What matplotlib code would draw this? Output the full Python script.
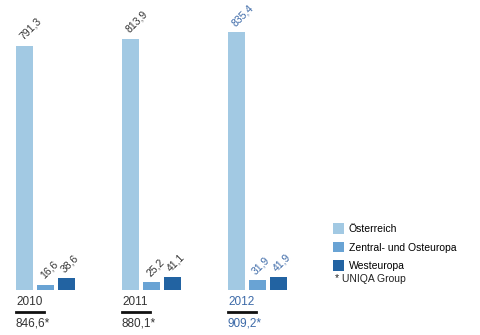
import numpy as np
import matplotlib.pyplot as plt
from matplotlib.patches import Patch

years = ['2010', '2011', '2012']
oesterreich = [791.3, 813.9, 835.4]
zentral_ost = [16.6, 25.2, 31.9]
westeuropa = [38.6, 41.1, 41.9]
totals = [846.6, 880.1, 909.2]
series_names = ['Österreich', 'Zentral- und Osteuropa', 'Westeuropa']

c_oe = '#a2c9e3'
c_zo = '#69a3d4'
c_we = '#2263a2'
label_cols = ['#333333', '#333333', '#3d6aa8']

plt.rcParams['font.family'] = ['Liberation Sans Narrow', 'Liberation Sans', 'DejaVu Sans']

def fmt(v):
    return ('%.1f' % v).replace('.', ',')

W, H = 480, 335
fig = plt.figure(figsize=(W / 100, H / 100), dpi=100)
# axes: baseline at y=290px, spans to top of figure
ax = fig.add_axes([0, (H - 290) / H, 1, 290 / H])
gap = 106.0
ax.set_xlim(-24.5 / gap, (W - 24.5) / gap)
ax.set_ylim(0, 290 / 0.3085)
ax.axis('off')

x = np.arange(len(years))
bw = 17 / gap
offs = [0, 21 / gap, 42 / gap]
groups = [oesterreich, zentral_ost, westeuropa]
cols = [c_oe, c_zo, c_we]
for vals, off, col in zip(groups, offs, cols):
    ax.bar(x + off, vals, bw, color=col, linewidth=0)

for vals, off in zip(groups, offs):
    for i, v in enumerate(vals):
        ax.annotate(fmt(v), (x[i] + off, v), xytext=(0, 3), textcoords='offset points',
                    rotation=45, rotation_mode='anchor', ha='left', va='bottom',
                    fontsize=7.5, color=label_cols[i])

for i, yr in enumerate(years):
    left = (16 + i * gap) / W
    fig.text(left, 1 - 302 / H, yr, fontsize=8.5, color=label_cols[i], va='center', ha='left')
    fig.add_artist(plt.Line2D([left, left + 28 / W], [1 - 312 / H] * 2, color='#111111', lw=2))
    fig.text(left, 1 - 323 / H, fmt(totals[i]) + '*', fontsize=8.5, color=label_cols[i],
             va='center', ha='left')

handles = [Patch(facecolor=c, edgecolor='none') for c in cols]
fig.legend(handles, series_names, loc='upper left', bbox_to_anchor=(331 / W, 1 - 221 / H),
           frameon=False, fontsize=7.5, handlelength=1.05, handleheight=1.2,
           handletextpad=0.45, labelspacing=0.75, borderaxespad=0, borderpad=0.2)
fig.text(335 / W, 1 - 279 / H, '* UNIQA Group', fontsize=7.5, color='#222222', va='center')

fig.savefig('out.png', dpi=100)
